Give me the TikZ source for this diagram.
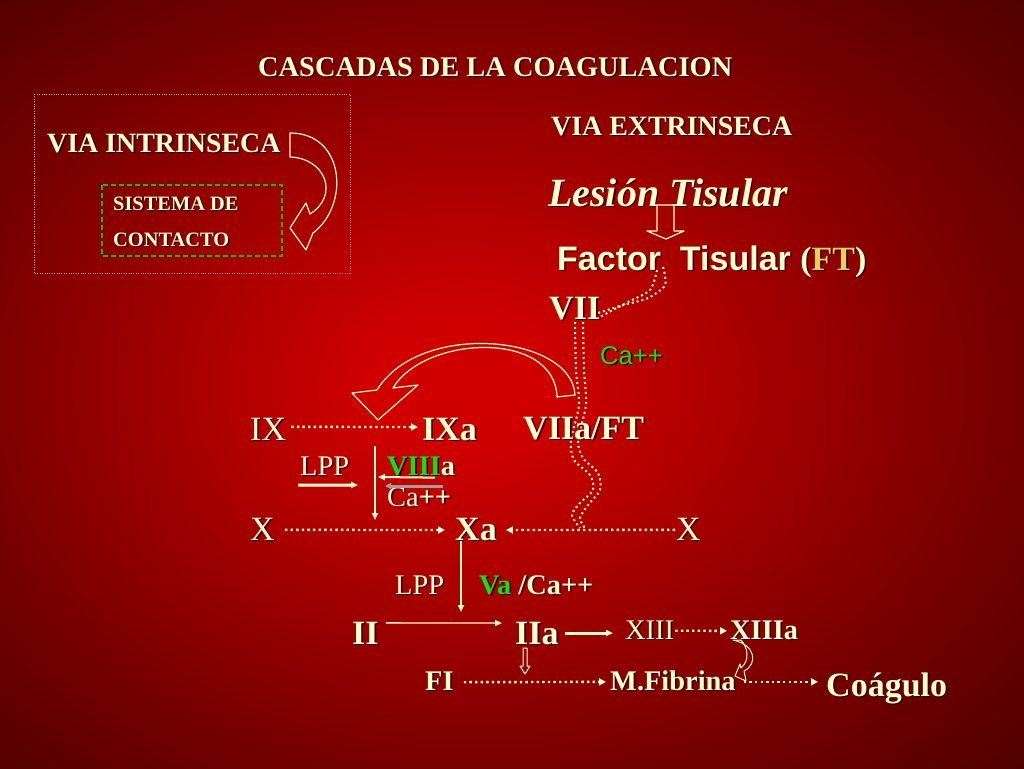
\documentclass[tikz,border=0pt]{standalone}
\usepackage{fontspec}
\setmainfont{Liberation Serif}
\newfontfamily\arialf{Liberation Sans}
\usetikzlibrary{arrows.meta}
\definecolor{cream}{RGB}{255,255,204}
\definecolor{grn}{RGB}{20,225,20}
\definecolor{goldft}{RGB}{235,205,90}
\definecolor{shadowc}{RGB}{45,0,0}
\definecolor{pinkdot}{RGB}{225,150,150}
\definecolor{bgmid}{RGB}{208,0,0}
\definecolor{bgedge}{RGB}{120,0,0}
\definecolor{bgcorner}{RGB}{80,0,0}
\newcommand\hl[1]{\textcolor{grn}{#1}}
\newcommand\gd[1]{\textcolor{goldft}{#1}}
\newcommand\shtext[1]{\leavevmode\rlap{\smash{\kern1.6pt\raisebox{-1.6pt}{\color{shadowc}\let\hl\relax\let\gd\relax #1}}}#1}
\pgfdeclareradialshading{bgshade}{\pgfpoint{-3bp}{0bp}}{color(0bp)=(bgmid); color(4bp)=(bgmid); color(25bp)=(bgedge); color(36bp)=(bgcorner); color(50bp)=(bgcorner)}

\begin{document}
\begin{tikzpicture}[x=1pt, y=-1pt,
    txt/.style={text=cream, inner sep=0pt, anchor=base west},
    huge/.style={txt, font=\bfseries\fontsize{34}{36}\selectfont},
    hugern/.style={txt, font=\fontsize{34}{36}\selectfont},
    big/.style={txt, font=\bfseries\fontsize{28.4}{30}\selectfont},
    bigrn/.style={txt, font=\fontsize{28.4}{30}\selectfont},
    small/.style={txt, font=\bfseries\fontsize{20.4}{22}\selectfont},
    dotarr/.style={cream, line width=2.4pt, dash pattern=on 2.4pt off 3.2pt, -{Triangle[length=7pt,width=7pt]}},
    dotline/.style={cream, line width=2pt, dash pattern=on 2pt off 3pt},
    solarr/.style={cream, line width=2pt, -{Triangle[length=7pt,width=6pt]}},
    blk/.style={draw=cream, line width=1.2pt, line join=round}]
    \shade[shading=bgshade] (0,0) rectangle (1024,768);
    \useasboundingbox (0,0) rectangle (1024,768);

    % titulos
    \node[big] (title) at (258,76) {\shtext{CASCADAS DE LA COAGULACION}};
    \node[big, font=\bfseries\fontsize{27.9}{30}\selectfont] (intr) at (47,152) {\shtext{VIA INTRINSECA}};
    \node[big, font=\bfseries\fontsize{27.9}{30}\selectfont] (extr) at (551,135) {\shtext{VIA EXTRINSECA}};
    \node[small] (sist) at (113,210) {\shtext{SISTEMA DE}};
    \node[small] (cont) at (113,246) {\shtext{CONTACTO}};
    \draw[pinkdot, line width=0.8pt, dash pattern=on 0.8pt off 1.6pt] (34,94) rectangle (350,273);
    \draw[grn!85!black, line width=1.3pt, dash pattern=on 5pt off 3pt] (102,185) rectangle (282,256);
    \draw[blk] (290,133) .. controls (345,133) and (350,205) .. (313,233) -- (306,250) -- (290,228)
        -- (306,203) -- (310,214) .. controls (340,195) and (325,158) .. (290,157) -- cycle;

    % via extrinseca
    \node[txt, font=\bfseries\itshape\fontsize{40}{42}\selectfont] (lesion) at (548,206) {\shtext{Lesión Tisular}};
    \draw[blk] (657,205) -- (674,205) -- (674,231) -- (684,231) -- (666,239) -- (647,231) -- (657,231) -- cycle;
    \node[txt, font=\fontsize{34}{36}\selectfont] (ft) at (557,270) {\shtext{\arialf\bfseries Factor\ \ Tisular \rmfamily(\gd{FT})}};
    \node[huge] (vii) at (549,319) {\shtext{VII}};
    \node[txt, text=grn, font=\arialf\fontsize{25.6}{27}\selectfont] (ca1) at (600,364) {\shtext{Ca++}};
    \draw[dotline] plot[smooth] coordinates {(663,267) (665,285) (648,298) (620,306) (598,313)};
    \draw[dotline] plot[smooth] coordinates {(657,270) (650,290) (628,302) (598,318)};
    \draw[dotline] plot[smooth] coordinates {(575,322) (576,370) (579,405) (571,440) (574,460) (590,475) (593,490) (580,503) (572,515) (580,528)};
    \draw[dotline] plot[smooth] coordinates {(583,322) (584,370) (586,405) (578,440) (583,458) (598,473) (600,490) (588,505) (580,518) (585,528)};
    \draw[blk] (575,395) .. controls (572,335) and (420,320) .. (377,390) -- (352,393) -- (378,420)
        -- (418,385) -- (393,388) .. controls (425,335) and (555,330) .. (557,397) -- cycle;

    % IX / X
    \node[hugern] (ix) at (250,440) {\shtext{IX}};
    \node[huge] (ixa) at (422,440) {\shtext{IXa}};
    \node[huge] (viia) at (523,439) {\shtext{VIIa/FT}};
    \node[bigrn] (lpp1) at (300,475) {\shtext{LPP}};
    \node[big] (viiia) at (387,475) {\shtext{\hl{VIII}a}};
    \node[bigrn] (ca2) at (387,506) {\shtext{Ca\textbf{++}}};
    \node[hugern] (xl) at (250,540) {\shtext{X}};
    \node[huge] (xa) at (455,540) {\shtext{Xa}};
    \node[hugern] (xr) at (676,540) {\shtext{X}};
    \draw[dotarr] ([xshift=5pt,yshift=2pt]ix.east) -- ([xshift=-4pt,yshift=2pt]ixa.west);
    \draw[dotarr] ([xshift=10pt,yshift=-1pt]xl.east) -- ([xshift=-10pt,yshift=-1pt]xa.west);
    \draw[dotarr] ([xshift=-1pt,yshift=-1pt]xr.west) -- ([xshift=9pt,yshift=-1pt]xa.east);
    \coordinate (vtop) at (375,446);
    \coordinate (vbot) at (375,520);
    \coordinate (lppend) at (358,485);
    \coordinate (viiiend) at (378,477);
    \coordinate (graystart) at (443,486);
    \coordinate (grayend) at (385,486);
    \draw[solarr] (vtop) -- (vbot);
    \draw[solarr, line width=3pt] ([xshift=-2pt,yshift=-10pt]lpp1.south west) -- (lppend);
    \draw[solarr] ([xshift=48pt,yshift=-2pt]viiia.south west) -- (viiiend);
    \draw[gray!75, line width=3pt, -{Triangle[length=6pt,width=6pt]}] (graystart) -- (grayend);

    % II / IIa
    \node[bigrn] (lpp2) at (395,594) {\shtext{LPP}};
    \node[big] (va) at (479,594) {\shtext{\hl{Va} /Ca++}};
    \node[huge] (ii) at (352,644) {\shtext{II}};
    \node[huge] (iia) at (515,644) {\shtext{IIa}};
    \node[bigrn] (xiii) at (625,639) {\shtext{XIII}};
    \node[big] (xiiia) at (730,639) {\shtext{XIIIa}};
    \node[big] (fi) at (425,690) {\shtext{FI}};
    \node[big] (mfib) at (610,690) {\shtext{M.Fibrina}};
    \node[huge] (coag) at (826,696) {\shtext{Coágulo}};
    \coordinate (vaend) at (461,612);
    \draw[solarr] ([xshift=6pt]xa.south west) -- (vaend);
    \draw[cream, line width=1.3pt, -{Triangle[length=7pt,width=6pt]}] ([xshift=7pt,yshift=10pt]ii.east) -- ([xshift=-13pt,yshift=10pt]iia.west);
    \draw[solarr, line width=3pt] ([xshift=6pt]iia.east) -- ([xshift=-12pt]iia.east -| xiii.west);
    \draw[dotarr] ([xshift=1pt,yshift=-1pt]xiii.east) -- ([xshift=-3pt,yshift=-1pt]xiiia.west);
    \draw[dotarr] ([xshift=10pt,yshift=-1.5pt]fi.east) -- ([xshift=-4pt,yshift=-1.5pt]mfib.west);
    \draw[dotarr] ([xshift=8pt,yshift=-1.5pt]mfib.east) -- ([xshift=-8pt,yshift=-1.5pt]mfib.east -| coag.west);
    \draw[blk, line width=1pt] (523,648) -- (527,648) -- (527,666) -- (530,666) -- (525,674) -- (520,666) -- (523,666) -- cycle;
    \draw[blk, line width=1pt] (733,640) .. controls (756,645) and (758,664) .. (744,671) -- (746,681) -- (735,676)
        -- (740,664) -- (741,668) .. controls (750,660) and (748,648) .. (741,640) -- cycle;
\end{tikzpicture}
\end{document}
